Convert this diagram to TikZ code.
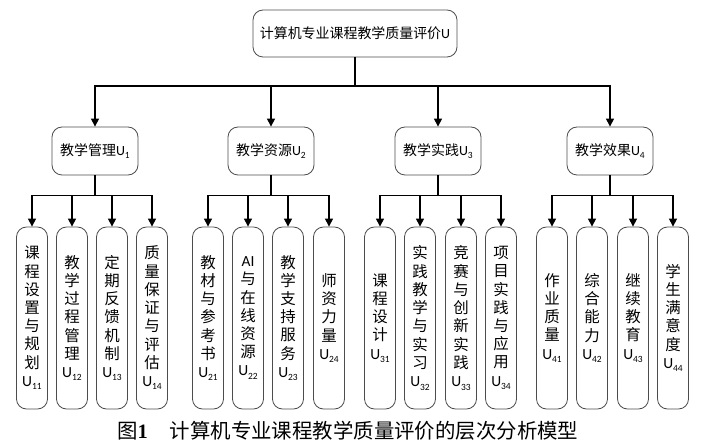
\documentclass[tikz,border=0pt]{standalone}
\usepackage{fontspec}
\setmainfont{Noto Sans CJK SC}
\newfontfamily\lat{Carlito}
\newfontfamily\capserif{Liberation Serif}
\usetikzlibrary{arrows.meta,calc}
\newcommand\Usub[1]{{\lat U\raisebox{-0.22em}{\fontsize{9.5}{9.5}\selectfont #1}}}
\newcommand\AIx{{\lat AI}}
\begin{document}
\begin{tikzpicture}[x=1bp,y=-1bp,
  box/.style={draw=black!70,line width=0.8bp,rounded corners=10bp,inner sep=0pt,align=center},
  topbox/.style={box,minimum width=204bp,minimum height=47bp,font=\fontsize{14}{16}\selectfont},
  midbox/.style={box,minimum width=86bp,minimum height=48bp,font=\fontsize{14}{16}\selectfont},
  leafbox/.style={box,minimum width=31bp,minimum height=182bp,font=\fontsize{15.5}{18.3}\selectfont},
  arr/.style={line width=1.2bp,black,-{Triangle[width=8bp,length=8bp]}}]
\useasboundingbox (0,0) rectangle (708,446);
% top
\node[topbox] (top) at (355,33.5) {计算机专业课程教学质量评价{\lat U}};
% level 2
\node[midbox] (u1) at (95,151) {教学管理\Usub{1}};
\node[midbox] (u2) at (271,151) {教学资源\Usub{2}};
\node[midbox] (u3) at (438,151) {教学实践\Usub{3}};
\node[midbox] (u4) at (610,151) {教学效果\Usub{4}};
% leaves
\node[leafbox] (u11) at (32,318) {课\\程\\设\\置\\与\\规\\划\\\Usub{11}};
\node[leafbox] (u12) at (72,318) {教\\学\\过\\程\\管\\理\\\Usub{12}};
\node[leafbox] (u13) at (112,318) {定\\期\\反\\馈\\机\\制\\\Usub{13}};
\node[leafbox] (u14) at (152,318) {质\\量\\保\\证\\与\\评\\估\\\Usub{14}};
\node[leafbox] (u21) at (208,318) {教\\材\\与\\参\\考\\书\\\Usub{21}};
\node[leafbox] (u22) at (248,318) {\AIx\\与\\在\\线\\资\\源\\\Usub{22}};
\node[leafbox] (u23) at (288,318) {教\\学\\支\\持\\服\\务\\\Usub{23}};
\node[leafbox] (u24) at (329,318) {师\\资\\力\\量\\\Usub{24}};
\node[leafbox] (u31) at (380,318) {课\\程\\设\\计\\\Usub{31}};
\node[leafbox] (u32) at (420,318) {实\\践\\教\\学\\与\\实\\习\\\Usub{32}};
\node[leafbox] (u33) at (461,318) {竞\\赛\\与\\创\\新\\实\\践\\\Usub{33}};
\node[leafbox] (u34) at (501,318) {项\\目\\实\\践\\与\\应\\用\\\Usub{34}};
\node[leafbox] (u41) at (552,318) {作\\业\\质\\量\\\Usub{41}};
\node[leafbox] (u42) at (592,318) {综\\合\\能\\力\\\Usub{42}};
\node[leafbox] (u43) at (633,318) {继\\续\\教\\育\\\Usub{43}};
\node[leafbox] (u44) at (673,318) {学\\生\\满\\意\\度\\\Usub{44}};
% junctions
\coordinate (j0) at (355,86);
\foreach \i in {1,...,4}{
  \draw[arr] (top.south) -- (j0) -| (u\i.north);
  \coordinate (j\i) at ($(u\i.south)+(0,20)$);
  \foreach \k in {1,...,4}{
    \draw[arr] (u\i.south) -- (j\i) -| (u\i\k.north);
  }
}
% caption
\node[anchor=west,inner sep=0pt,font=\fontsize{20.5}{22}\selectfont] (cap) at (117,431) {图{\capserif\bfseries 1}\hspace{22bp}计算机专业课程教学质量评价的层次分析模型};
\end{tikzpicture}
\end{document}
